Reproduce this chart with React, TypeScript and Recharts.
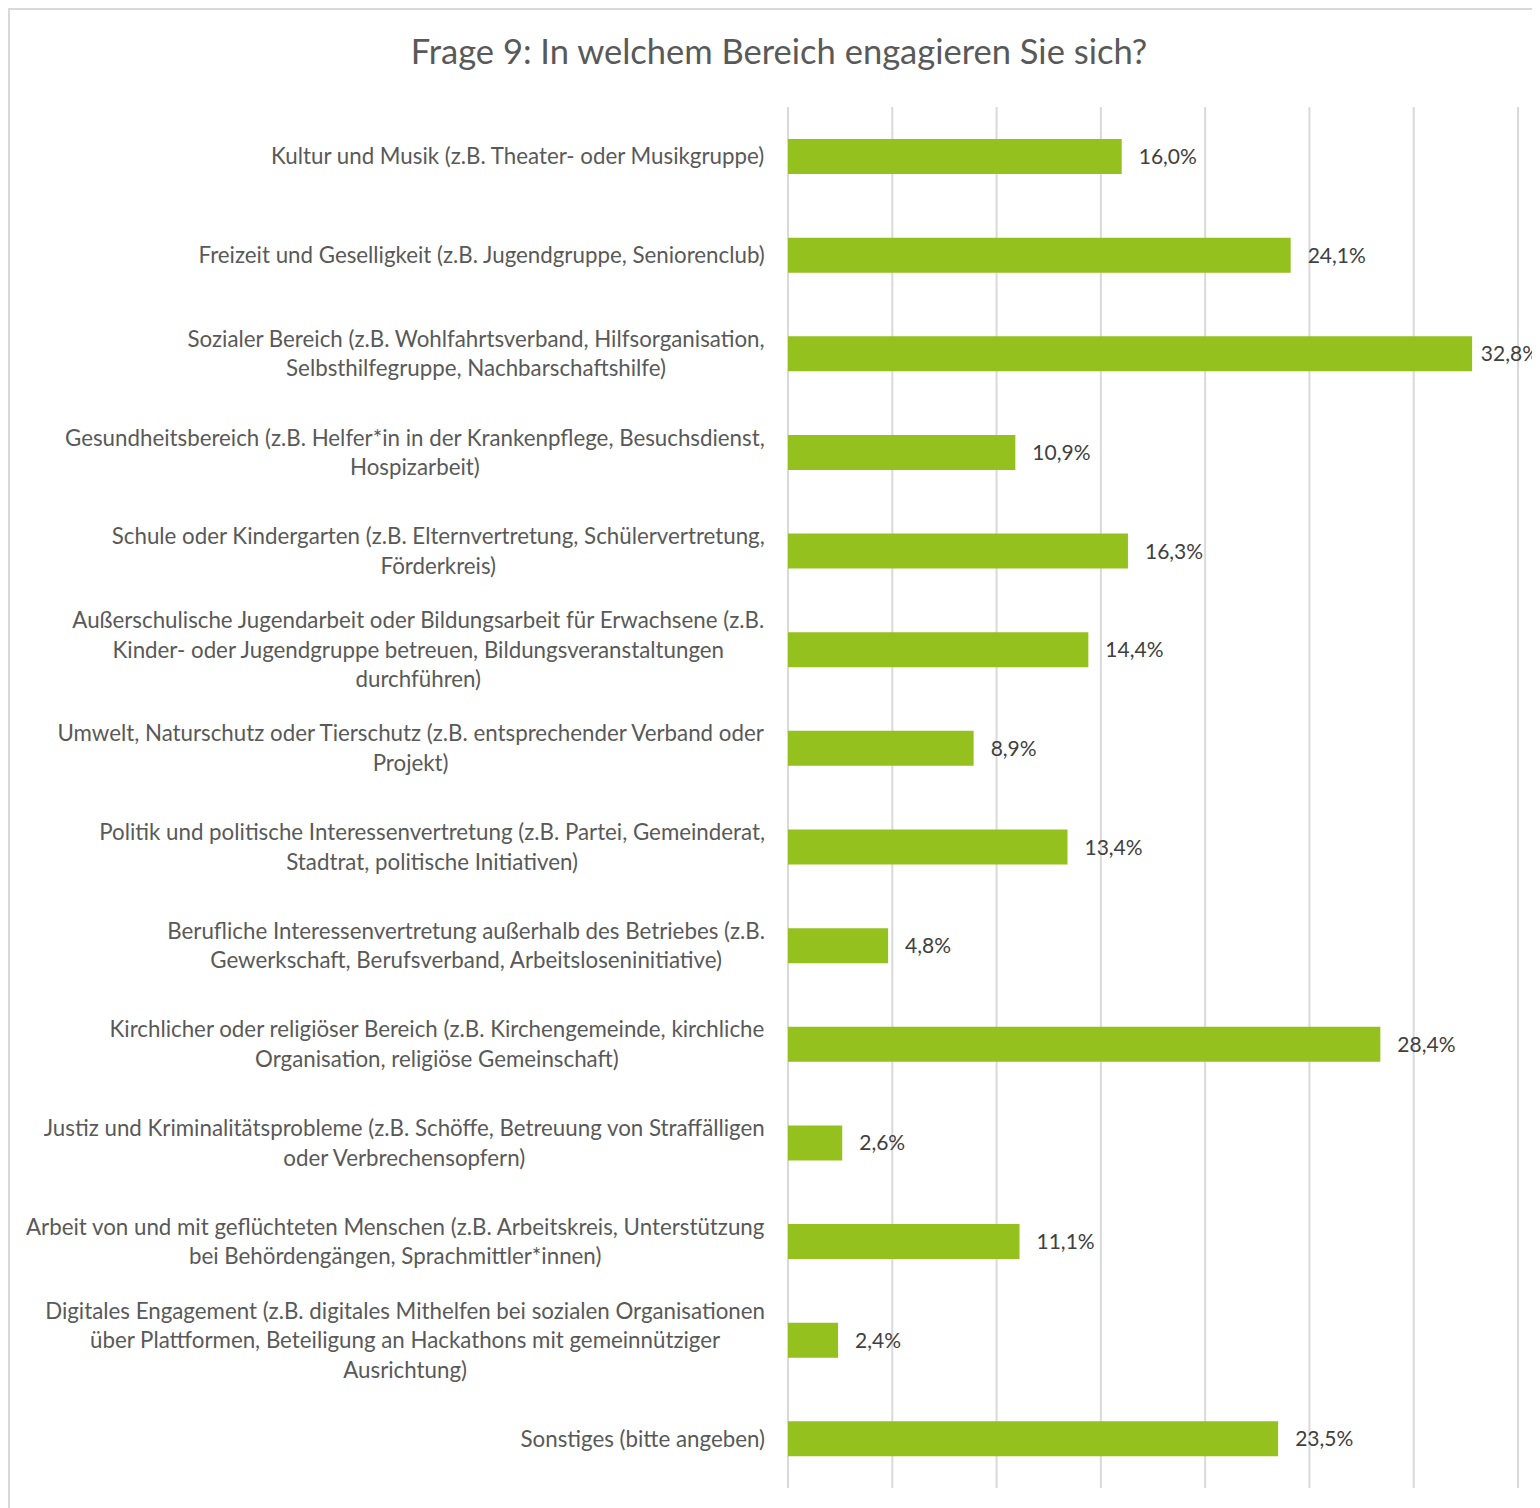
import { BarChart, Bar, XAxis, YAxis, CartesianGrid, LabelList } from "recharts";

const title = "Frage 9: In welchem Bereich engagieren Sie sich?";

const categories = [
  "Kultur und Musik (z.B. Theater- oder Musikgruppe)",
  "Freizeit und Geselligkeit (z.B. Jugendgruppe, Seniorenclub)",
  "Sozialer Bereich (z.B. Wohlfahrtsverband, Hilfsorganisation,\nSelbsthilfegruppe, Nachbarschaftshilfe)",
  "Gesundheitsbereich (z.B. Helfer*in in der Krankenpflege, Besuchsdienst,\nHospizarbeit)",
  "Schule oder Kindergarten (z.B. Elternvertretung, Schülervertretung,\nFörderkreis)",
  "Außerschulische Jugendarbeit oder Bildungsarbeit für Erwachsene (z.B.\nKinder- oder Jugendgruppe betreuen, Bildungsveranstaltungen\ndurchführen)",
  "Umwelt, Naturschutz oder Tierschutz (z.B. entsprechender Verband oder\nProjekt)",
  "Politik und politische Interessenvertretung (z.B. Partei, Gemeinderat,\nStadtrat, politische Initiativen)",
  "Berufliche Interessenvertretung außerhalb des Betriebes (z.B.\nGewerkschaft, Berufsverband, Arbeitsloseninitiative)",
  "Kirchlicher oder religiöser Bereich (z.B. Kirchengemeinde, kirchliche\nOrganisation, religiöse Gemeinschaft)",
  "Justiz und Kriminalitätsprobleme (z.B. Schöffe, Betreuung von Straffälligen\noder Verbrechensopfern)",
  "Arbeit von und mit geflüchteten Menschen (z.B. Arbeitskreis, Unterstützung\nbei Behördengängen, Sprachmittler*innen)",
  "Digitales Engagement (z.B. digitales Mithelfen bei sozialen Organisationen\nüber Plattformen, Beteiligung an Hackathons mit gemeinnütziger\nAusrichtung)",
  "Sonstiges (bitte angeben)",
];

const shares = [16.0, 24.1, 32.8, 10.9, 16.3, 14.4, 8.9, 13.4, 4.8, 28.4, 2.6, 11.1, 2.4, 23.5];

const xTicks = [0, 5, 10, 15, 20, 25, 30, 35];

const data = categories.map((name, i) => ({ name, value: shares[i] }));

const FONT = "Lato, 'Open Sans', sans-serif";
const LABEL_SIZE = 22.3;
const VALUE_SIZE = 21;
const CHART_W = 1538;
// the visible part of the chart ends at the window edge
const VISIBLE_W = 1529;

let ctx: CanvasRenderingContext2D | null = null;
const textWidth = (s: string, size: number) => {
  if (!ctx) ctx = document.createElement("canvas").getContext("2d");
  if (!ctx) return s.length * size * 0.5;
  ctx.font = `${size}px Lato`;
  return ctx.measureText(s).width;
};

const CategoryTick = (props: any) => {
  const { x, y, payload } = props;
  const lines: string[] = String(payload.value).split("\n");
  const w = Math.max(...lines.map((l) => textWidth(l, LABEL_SIZE)));
  const cx = x - w / 2;
  const lh = 29.5;
  const y0 = y - ((lines.length - 1) * lh) / 2;
  return (
    <text textAnchor="middle" fill="#595959" fontSize={LABEL_SIZE} fontFamily={FONT}>
      {lines.map((l, i) => (
        <tspan key={i} x={cx} y={y0 + i * lh} dy="0.36em">
          {l}
        </tspan>
      ))}
    </text>
  );
};

const fmt = (v: any) => `${Number(v).toFixed(1).replace(".", ",")}%`;

// value label right of the bar, pulled back if it would run past the edge
const ValueLabel = (props: any) => {
  const { x, y, width, height, value } = props;
  const s = fmt(value);
  const w = textWidth(s, VALUE_SIZE);
  let tx = x + width + 17;
  if (tx + w > VISIBLE_W) tx = Math.max(x + width + 6, VISIBLE_W - w);
  return (
    <text x={tx} y={y + height / 2} dy="0.36em" fill="#404040" fontSize={VALUE_SIZE} fontFamily={FONT}>
      {s}
    </text>
  );
};

export default function App() {
  return (
    <div>
      <style>{`body{overflow:hidden}`}</style>
      <div
        style={{
          position: "relative",
          width: 1540,
          height: 1500,
          boxSizing: "border-box",
          borderLeft: "2px solid #d9d9d9",
          borderTop: "2px solid #d9d9d9",
          background: "#fff",
        }}
      >
        <div
          style={{
            position: "absolute",
            top: 20,
            left: 0,
            width: CHART_W,
            textAlign: "center",
            fontFamily: FONT,
            fontSize: 34.5,
            color: "#595959",
          }}
        >
          {title}
        </div>
        <BarChart
          width={CHART_W}
          height={1498}
          data={data}
          layout="vertical"
          margin={{ top: 97, right: 30, bottom: 20, left: 0 }}
          barSize={35}
        >
          <CartesianGrid horizontal={false} stroke="#d9d9d9" strokeWidth={2} />
          <XAxis type="number" domain={[0, 35]} ticks={xTicks} hide />
          <YAxis
            type="category"
            dataKey="name"
            width={778}
            axisLine={false}
            tickLine={false}
            tickSize={0}
            tickMargin={23}
            interval={0}
            tick={<CategoryTick />}
          />
          <Bar dataKey="value" fill="#95c11f" isAnimationActive={false}>
            <LabelList dataKey="value" content={<ValueLabel />} />
          </Bar>
        </BarChart>
      </div>
    </div>
  );
}
